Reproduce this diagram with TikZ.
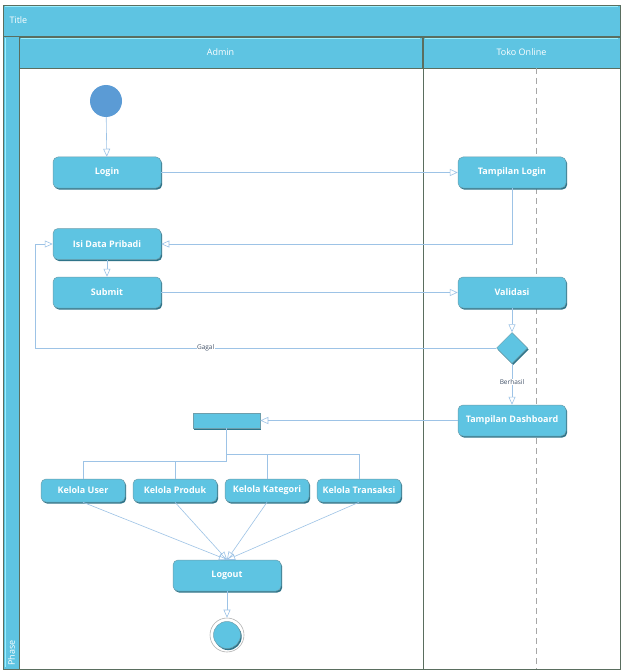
\documentclass[tikz,border=0pt]{standalone}
\usepackage{fontspec}
\setmainfont{Open Sans}
\usetikzlibrary{arrows.meta,shapes.geometric}
\definecolor{boxfill}{HTML}{5EC4E2}
\definecolor{boxshade}{HTML}{2F7489}
\definecolor{boxlight}{HTML}{9AEFFF}
\definecolor{hdrline}{HTML}{5A6E5F}
\definecolor{conncol}{HTML}{9DC3E6}
\definecolor{startcol}{HTML}{5B9BD5}
\definecolor{lblcol}{HTML}{44546A}
\tikzset{
  shad/.style={preaction={fill=boxshade, transform canvas={shift={(1.2pt,-1.6pt)}}}},
  act/.style={rectangle, rounded corners=5pt, fill=boxfill, draw=boxshade!70, line width=0.5pt, shad,
    minimum width=108pt, minimum height=31pt, text=white, font=\fontsize{9}{10}\selectfont\bfseries, inner sep=0pt},
  kel/.style={act, minimum width=84pt, minimum height=23pt},
  conn/.style={draw=conncol, line width=0.6pt, -{Triangle[open,length=8pt,width=7pt]}},
  plain/.style={draw=conncol, line width=0.6pt},
  lbl/.style={fill=white, text=lblcol, font=\fontsize{6.5}{7}\selectfont, inner sep=0.5pt},
  hdr/.style={fill=boxfill, draw=hdrline, line width=0.8pt},
  hdrtxt/.style={text=white, font=\fontsize{9}{10}\selectfont}
}
\begin{document}
\begin{tikzpicture}[x=1pt,y=-1pt]
\useasboundingbox (0,0) rectangle (624,671);
\fill[white] (0,0) rectangle (624,671);
% frame
\draw[hdrline, line width=0.8pt] (3,5) rectangle (620,669);
% title bar
\draw[hdr] (3,5) rectangle (620,36);
\draw[boxlight, line width=1pt] (5,7) -- (618,7);
\node[hdrtxt, anchor=west] (title) at (6,20.5) {Title};
% phase bar
\draw[hdr] (3,36) rectangle (19,669);
\draw[boxlight, line width=1pt] (5,38) -- (5,667);
\node[hdrtxt, rotate=90, anchor=west, inner sep=1pt] (phase) at (11.5,667) {Phase};
% lane headers
\draw[hdr] (19,37) rectangle (422,68);
\draw[boxlight, line width=1pt] (21,39) -- (420,39);
\node[hdrtxt] (admin) at (220.5,52.5) {Admin};
\draw[hdr] (423,37) rectangle (620,68);
\draw[boxlight, line width=1pt] (425,39) -- (618,39);
\node[hdrtxt] (toko) at (521.5,52.5) {Toko Online};
% lane divider
\draw[hdrline, line width=0.6pt] (423,68) -- (423,669);
\draw[gray!70, dash pattern=on 6pt off 4pt, line width=0.7pt] (536,68) -- (536,669);
% nodes
\node[circle, fill=startcol, minimum size=32pt, inner sep=0pt] (start) at (106,101) {};
\node[act] (login) at (107,172.5) {Login};
\node[act] (tlogin) at (512,172.5) {Tampilan Login};
\node[act] (isi) at (107,244) {Isi Data Pribadi};
\node[act] (submit) at (107,292.5) {Submit};
\node[act] (valid) at (512,292.5) {Validasi};
\node[diamond, fill=boxfill, draw=boxshade!70, line width=0.5pt, shad, minimum width=31pt, minimum height=31pt, inner sep=0pt] (dec) at (512,348) {};
\node[act] (tdash) at (512,420.5) {Tampilan Dashboard};
\node[rectangle, fill=boxfill, draw=boxshade!70, line width=0.5pt, shad, minimum width=67pt, minimum height=15pt, inner sep=0pt] (fork) at (226.5,420.5) {};
\node[kel] (ku) at (83,490.5) {Kelola User};
\node[kel] (kp) at (175,490.5) {Kelola Produk};
\node[kel] (kk) at (267,490.5) {Kelola Kategori};
\node[kel] (kt) at (359,490.5) {Kelola Transaksi};
\node[act] (logout) at (227,575.5) {Logout};
\node[circle, draw=gray!60, line width=0.6pt, minimum size=34pt, inner sep=0pt] (endo) at (227,635) {};
\node[circle, fill=boxfill, draw=boxshade!70, line width=0.5pt, shad, minimum size=27pt, inner sep=0pt] (endi) at (227,635) {};
% connectors
\draw[conn] (start) -- (login);
\draw[conn] (login) -- (tlogin);
\draw[conn] (tlogin.south) |- (isi.east);
\draw[conn] (isi) -- (submit);
\draw[conn] (submit) -- (valid);
\draw[conn] (valid) -- (dec);
\coordinate (g1) at (35,348);
\draw[conn] (dec.west) -- node[lbl, pos=0.63] {Gagal} (g1) |- (isi.west);
\draw[conn] (dec.south) -- node[lbl, pos=0.45] {Berhasil} (tdash.north);
\draw[conn] (tdash.west) -- (fork.east);
\coordinate (j1) at (226.5,461);
\coordinate (j2) at (226.5,454);
\draw[plain] (fork.south) -- (j1) -| (ku.north);
\draw[plain] (j1) -| (kp.north);
\draw[plain] (j2) -| (kk.north);
\draw[plain] (j2) -| (kt.north);
\draw[conn] (ku.south) -- (logout.north);
\draw[conn] (kp.south) -- (logout.north);
\draw[conn] (kk.south) -- (logout.north);
\draw[conn] (kt.south) -- (logout.north);
\draw[conn] (logout) -- (endo);
\end{tikzpicture}
\end{document}
